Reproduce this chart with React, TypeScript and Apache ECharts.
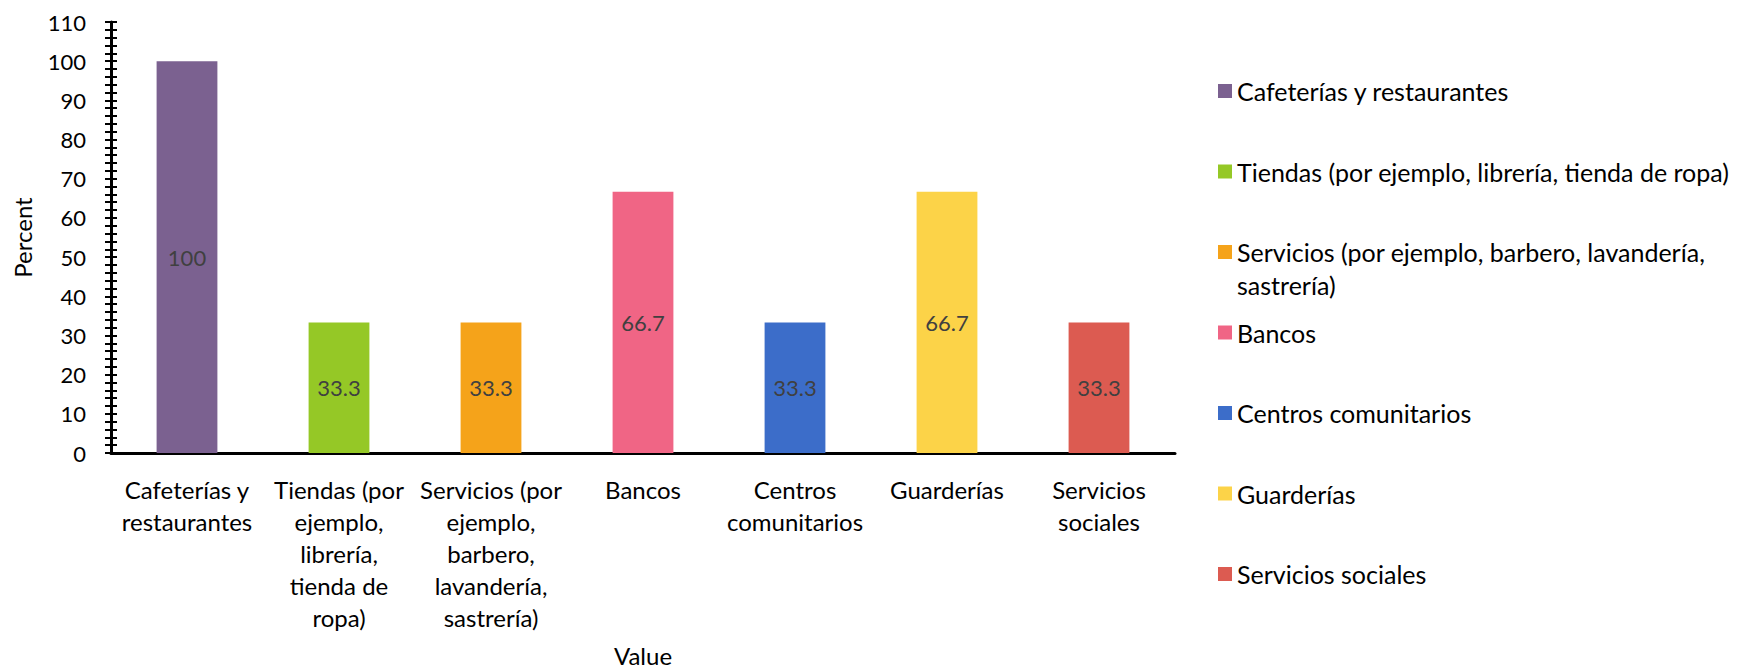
import React, { useEffect, useRef } from "react";
import * as echarts from "echarts";

const categories = [
  "Cafeterías y restaurantes",
  "Tiendas (por ejemplo, librería, tienda de ropa)",
  "Servicios (por ejemplo, barbero, lavandería, sastrería)",
  "Bancos",
  "Centros comunitarios",
  "Guarderías",
  "Servicios sociales",
];
const axisLabels = [
  "Cafeterías y\nrestaurantes",
  "Tiendas (por\nejemplo,\nlibrería,\ntienda de\nropa)",
  "Servicios (por\nejemplo,\nbarbero,\nlavandería,\nsastrería)",
  "Bancos",
  "Centros\ncomunitarios",
  "Guarderías",
  "Servicios\nsociales",
];
const legendLabels = [
  "Cafeterías y restaurantes",
  "Tiendas (por ejemplo, librería, tienda de ropa)",
  "Servicios (por ejemplo, barbero, lavandería,\nsastrería)",
  "Bancos",
  "Centros comunitarios",
  "Guarderías",
  "Servicios sociales",
];
const values = [100, 33.3, 33.3, 66.7, 33.3, 66.7, 33.3];
const colors = ["#7B6190", "#95C826", "#F5A31A", "#F06585", "#3C6DC9", "#FCD348", "#DC5B51"];
const yMin = 0;
const yMax = 110;
const yInterval = 10;
const yMinorInterval = 2;

const FONT = "Lato";
const TEXT_SIZE = 24;
const LEGEND_SIZE = 25;
const NUM_SIZE = 22;
const LINE_H = 33;

export default function App() {
  const ref = useRef<HTMLDivElement>(null);
  useEffect(() => {
    document.body.style.margin = "0";
    if (!ref.current) return;
    const chart = echarts.init(ref.current, null, { renderer: "svg" });

    const legends = categories.map((name, i) => {
      const multi = legendLabels[i].includes("\n");
      const center = 91 + i * 80.5;
      return {
        orient: "vertical",
        left: 1218,
        top: multi ? center - 1.5 * LINE_H : center - LINE_H / 2,
        padding: 0,
        itemWidth: 14,
        itemHeight: 14,
        icon: "rect",
        data: [name],
        formatter: () => (multi ? "\n" + legendLabels[i] : legendLabels[i]),
        textStyle: {
          fontFamily: FONT,
          fontSize: LEGEND_SIZE,
          color: "#000",
          lineHeight: LINE_H,
        },
      };
    });

    const option = {
      animation: false,
      backgroundColor: "#fff",
      textStyle: { fontFamily: FONT },
      grid: { left: 111, right: 567, top: 22, bottom: 217, containLabel: false, outerBoundsMode: "none" },
      legend: legends,
      xAxis: {
        type: "category",
        data: categories,
        name: "Value",
        nameLocation: "middle",
        nameGap: 191,
        nameTextStyle: { fontFamily: FONT, fontSize: TEXT_SIZE, color: "#000", lineHeight: 22 },
        axisLine: { show: true, lineStyle: { color: "#000", width: 3 } },
        axisTick: { show: false },
        axisLabel: {
          interval: 0,
          margin: 20,
          fontFamily: FONT,
          fontSize: TEXT_SIZE,
          lineHeight: 32,
          color: "#000",
          formatter: (_v: string, idx: number) => axisLabels[idx],
        },
        splitLine: { show: false },
      },
      yAxis: [
        {
          type: "value",
          min: yMin,
          max: yMax,
          interval: yInterval,
          name: "Percent",
          nameLocation: "middle",
          nameRotate: 90,
          nameGap: 77,
          nameTextStyle: { fontFamily: FONT, fontSize: TEXT_SIZE, color: "#000" },
          axisLine: { show: true, lineStyle: { color: "#000", width: 3 } },
          axisTick: { show: false },
          axisLabel: { margin: 25, fontFamily: FONT, fontSize: NUM_SIZE, color: "#000" },
          splitLine: { show: false },
        },
        {
          type: "value",
          min: yMin,
          max: yMax,
          interval: yMinorInterval,
          position: "left",
          offset: -6,
          axisLine: { show: false },
          axisTick: { show: true, length: 12, lineStyle: { color: "#000", width: 2 } },
          axisLabel: { show: false },
          splitLine: { show: false },
        },
      ],
      series: categories.map((name, i) => ({
        type: "bar",
        name,
        stack: "all",
        barWidth: "40%",
        itemStyle: { color: colors[i] },
        label: {
          show: true,
          position: "inside",
          color: "#404040",
          fontFamily: FONT,
          fontSize: NUM_SIZE,
        },
        data: values.map((v, j) => (j === i ? v : "-")),
      })),
    };
    chart.setOption(option as any);
    return () => chart.dispose();
  }, []);
  return <div ref={ref} style={{ width: 1742, height: 670 }} />;
}
